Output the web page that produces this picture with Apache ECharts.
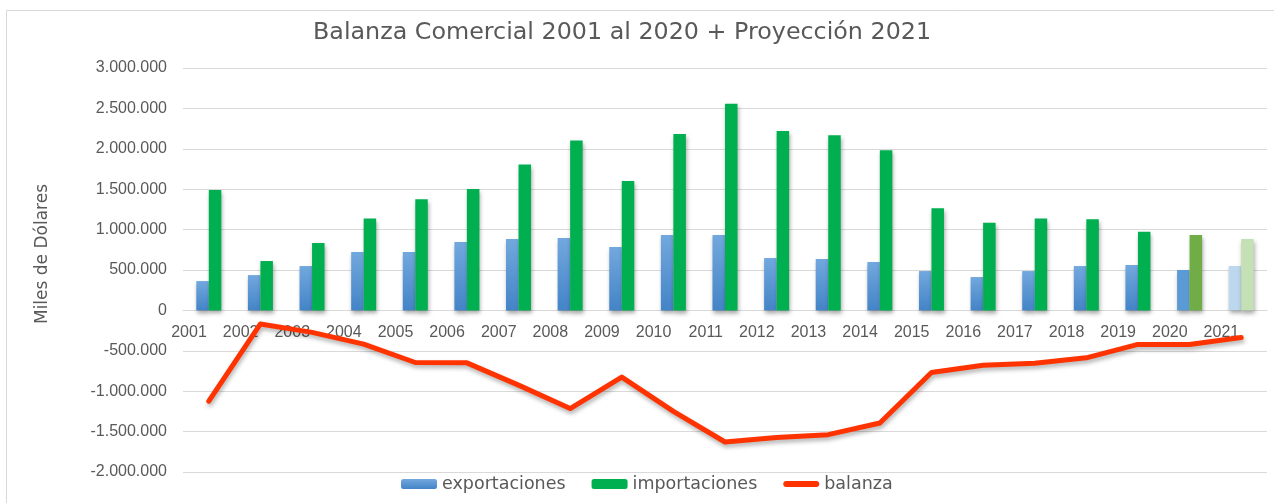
<!DOCTYPE html>
<html>
<head>
<meta charset="utf-8">
<script src="https://cdn.jsdelivr.net/npm/echarts@6/dist/echarts.min.js"></script>
<style>
html,body{margin:0;padding:0;background:#fff;}
#chart{width:1274px;height:503px;}
</style>
</head>
<body>
<div id="chart"></div>
<script>
const years = ['2001','2002','2003','2004','2005','2006','2007','2008','2009','2010','2011','2012','2013','2014','2015','2016','2017','2018','2019','2020','2021'];
const exportaciones = [363000, 437000, 549000, 723000, 723000, 847000, 884000, 896000, 785000, 933000, 933000, 648000, 636000, 599000, 487000, 413000, 487000, 549000, 562000, 500000, 549000];
const importaciones = [1491000, 611000, 834000, 1136000, 1376000, 1504000, 1805000, 2103000, 1603000, 2182000, 2557000, 2219000, 2169000, 1983000, 1264000, 1086000, 1136000, 1128000, 974000, 933000, 884000];
const balanza = [-1124000, -168000, -272000, -418000, -645000, -649000, -925000, -1215000, -826000, -1250000, -1629000, -1574000, -1538000, -1393000, -769000, -678000, -653000, -587000, -421000, -422000, -335000];
const yTicks = {min: -2000000, max: 3000000, interval: 500000};

function fmt(v){
  const neg = v < 0; let s = String(Math.abs(v));
  s = s.replace(/\B(?=(\d{3})+(?!\d))/g, '.');
  return (neg ? '-' : '') + s;
}
const blueGrad = new echarts.graphic.LinearGradient(0,0,0,1,[{offset:0,color:'#72a8de'},{offset:1,color:'#4384c7'}]);
const shadow = {shadowColor:'rgba(0,0,0,0.35)', shadowBlur:4, shadowOffsetX:1, shadowOffsetY:3};

const expData = exportaciones.map((v,i)=>{
  if (years[i]==='2020') return {value:v, itemStyle:{color:'#5b9bd5'}};
  if (years[i]==='2021') return {value:v, itemStyle:{color:'#bdd7ee'}};
  return v;
});
const impData = importaciones.map((v,i)=>{
  if (years[i]==='2020') return {value:v, itemStyle:{color:'#70ad47'}};
  if (years[i]==='2021') return {value:v, itemStyle:{color:'#c5e0b4'}};
  return v;
});

const gridTop = 68, gridBottom = 31, H = 503;
const plotH = H - gridTop - gridBottom;
const zeroOffset = plotH * (0 - yTicks.min) / (yTicks.max - yTicks.min);

const chart = echarts.init(document.getElementById('chart'), null, {renderer:'canvas'});
const labelFont = 'Liberation Sans';
const textFont = 'DejaVu Sans';
chart.setOption({
  animation:false,
  backgroundColor:'#fff',
  title:{
    text:'Balanza Comercial 2001 al 2020 + Proyección 2021',
    left:313, top:21, padding:0,
    textStyle:{fontFamily:textFont, fontSize:23.8, fontWeight:'normal', color:'#595959'}
  },
  graphic:[
    {type:'rect', shape:{x:6.5, y:10.5, width:1300, height:600}, style:{fill:'none', stroke:'#d9d9d9', lineWidth:1}, silent:true, z:-10},
    {type:'text', x:43, y:254, rotation:Math.PI/2,
     style:{text:'Miles de Dólares', fontFamily:textFont, fontSize:17, fill:'#595959', align:'center', verticalAlign:'middle'}}
  ],
  legend:{
    left:401, top:475, padding:0, itemWidth:36, itemHeight:10, itemGap:26,
    textStyle:{fontFamily:textFont, fontSize:17.5, color:'#595959'},
    data:['exportaciones','importaciones',
      {name:'balanza', icon:'path://M3,2 L33,2 A3,3 0 0 1 33,8 L3,8 A3,3 0 0 1 3,2 Z', itemStyle:{color:'#ff3300'}}]
  },
  grid:{left:183, right:7, top:gridTop, bottom:gridBottom, containLabel:false},
  xAxis:{
    type:'category', data:years, position:'bottom', offset:-zeroOffset,
    axisLine:{show:true, onZero:false, lineStyle:{color:'#d9d9d9', width:1}},
    axisTick:{show:false},
    axisLabel:{fontFamily:labelFont, fontSize:16, color:'#595959', margin:14, align:'right', padding:[0,2,0,0]}
  },
  yAxis:{
    type:'value', min:yTicks.min, max:yTicks.max, interval:yTicks.interval,
    axisLine:{show:false}, axisTick:{show:false},
    splitLine:{lineStyle:{color:'#d9d9d9', width:1}},
    axisLabel:{fontFamily:labelFont, fontSize:16, color:'#595959', margin:16, formatter:fmt}
  },
  series:[
    {name:'exportaciones', type:'bar', data:expData, barWidth:12.5, barGap:'0%',
     itemStyle:Object.assign({color:blueGrad}, shadow)},
    {name:'importaciones', type:'bar', data:impData, barWidth:12.5, barGap:'0%',
     itemStyle:Object.assign({color:'#00b050'}, shadow)},
    {name:'balanza', type:'line', data:balanza, symbol:'none', showSymbol:false,
     lineStyle:{color:'#ff3300', width:5, cap:'round', join:'round', shadowColor:'rgba(0,0,0,0.3)', shadowBlur:4, shadowOffsetX:1, shadowOffsetY:3},
     itemStyle:{color:'#ff3300'}, z:5}
  ]
});
</script>
</body>
</html>
